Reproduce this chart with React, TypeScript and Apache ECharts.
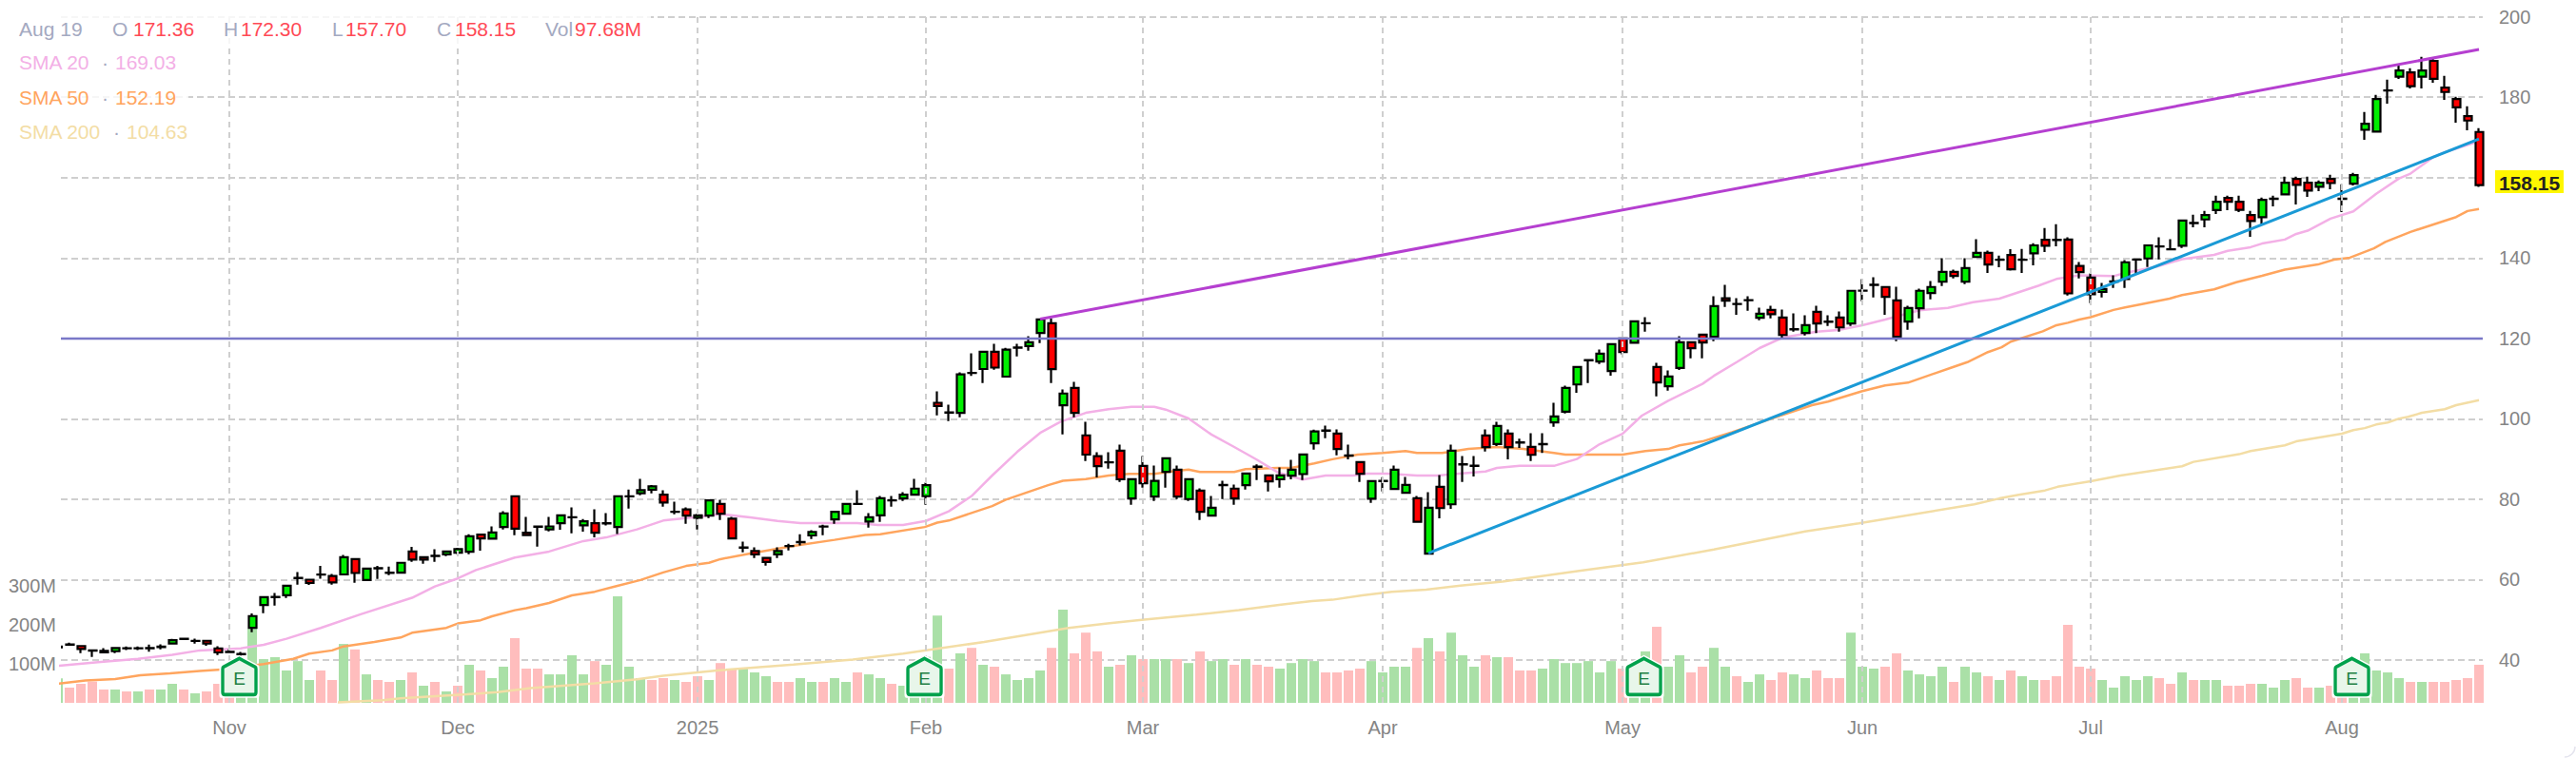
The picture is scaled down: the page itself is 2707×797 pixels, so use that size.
import React, { useEffect, useRef } from "react";
import * as echarts from "echarts";

const monthDays = [15, 35, 56, 76, 95, 116, 137, 158, 178, 200];
const monthLabels = ["Nov", "Dec", "2025", "Feb", "Mar", "Apr", "May", "Jun", "Jul", "Aug"];
const volumeTicks = [100, 200, 300];
const earningsDays = [16, 76, 139, 201];

const opens = [
  43.25, 43.8, 43.5, 42.4, 41.9, 42.2, 42.9, 42.9, 42.95, 43.25,
  44.1, 45.25, 44.75, 44.8, 42.9, 42.05, 41.5, 48.0, 53.7, 55.65,
  56.1, 60.4, 60.0, 61.25, 60.9, 61.3, 65.1, 59.9, 62.8, 61.7,
  61.75, 67.0, 65.6, 65.9, 66.3, 66.7, 66.95, 71.2, 70.2, 73.1,
  80.75, 71.7, 73.15, 72.5, 74.05, 75.5, 73.5, 74.05, 74.0, 73.1,
  80.7, 81.5, 82.4, 81.15, 76.85, 77.45, 75.4, 75.95, 78.85, 75.15,
  67.95, 67.1, 65.4, 66.3, 68.35, 69.3, 71.0, 73.2, 75.0, 76.4,
  78.8, 74.45, 76.0, 79.7, 80.2, 81.15, 80.75, 104.0, 101.55, 101.5,
  111.4, 112.4, 116.7, 110.5, 117.7, 118.1, 121.35, 123.8, 103.4, 107.7,
  95.9, 90.7, 89.15, 92.1, 80.2, 88.3, 80.65, 86.8, 87.35, 80.05,
  82.15, 75.95, 83.5, 82.65, 83.5, 88.05, 85.95, 84.95, 85.85, 86.25,
  93.9, 97.05, 96.35, 90.85, 89.25, 80.15, 84.5, 82.55, 81.6, 80.25,
  66.45, 83.1, 78.75, 88.65, 88.3, 95.85, 93.75, 96.35, 94.1, 93.05,
  93.7, 99.1, 101.8, 108.55, 114.55, 114.25, 111.9, 120.0, 118.95, 123.75,
  112.9, 108.1, 112.65, 119.05, 120.95, 120.4, 130.0, 128.55, 129.5, 125.15,
  127.1, 125.2, 122.25, 121.35, 126.6, 124.15, 125.2, 123.7, 131.85, 133.3,
  132.8, 129.45, 124.2, 127.5, 131.3, 134.1, 136.55, 134.1, 140.25, 141.3,
  139.55, 140.75, 139.55, 141.15, 144.55, 144.5, 144.6, 138.05, 135.15, 131.6,
  134.15, 134.75, 139.6, 139.9, 142.85, 142.15, 143.05, 148.7, 149.6, 151.95,
  154.95, 154.0, 150.7, 150.15, 154.7, 155.85, 159.7, 158.75, 157.75, 159.7,
  154.7, 158.5, 171.9, 171.45, 181.65, 185.1, 186.2, 185.1, 189.05, 182.4,
  179.55, 175.3, 171.36,
];

const closes = [
  43.3, 43.9, 42.75, 42.35, 42.3, 43.0, 42.95, 42.95, 43.0, 43.35,
  44.95, 45.3, 44.8, 44.1, 41.9, 42.0, 41.45, 50.95, 55.65, 55.7,
  58.5, 60.45, 59.2, 61.3, 59.3, 65.6, 61.65, 62.75, 62.85, 61.75,
  64.2, 65.0, 65.0, 65.95, 67.0, 67.6, 70.8, 70.25, 71.75, 76.5,
  72.7, 71.1, 73.2, 73.25, 76.0, 75.55, 74.5, 71.7, 74.05, 80.75,
  80.75, 82.25, 83.2, 79.2, 76.9, 75.95, 76.0, 79.7, 76.4, 70.25,
  68.0, 66.3, 64.4, 67.1, 68.4, 69.35, 71.85, 73.25, 76.9, 78.85,
  78.85, 75.55, 80.25, 79.75, 81.15, 82.65, 83.5, 103.2, 101.6, 111.05,
  111.45, 116.7, 112.75, 117.2, 117.75, 119.05, 124.75, 112.35, 106.3, 101.5,
  91.1, 88.25, 89.2, 84.95, 85.0, 84.0, 84.55, 90.2, 80.65, 85.0,
  76.9, 77.9, 83.55, 80.2, 86.4, 88.1, 84.45, 85.95, 87.35, 91.15,
  96.85, 97.1, 92.5, 90.9, 86.35, 84.5, 84.55, 87.35, 83.55, 74.4,
  77.9, 77.8, 92.1, 88.7, 88.35, 92.95, 98.25, 92.95, 94.15, 91.05,
  93.75, 100.6, 107.7, 112.9, 114.6, 116.2, 118.6, 116.6, 124.25, 123.8,
  109.05, 110.55, 119.05, 117.55, 119.0, 128.05, 129.4, 128.6, 129.55, 126.15,
  126.05, 120.85, 122.3, 123.3, 123.7, 124.2, 122.75, 131.85, 131.9, 133.35,
  130.35, 120.4, 127.55, 131.85, 132.8, 136.55, 135.55, 137.5, 141.3, 138.4,
  139.6, 137.2, 139.6, 143.15, 143.05, 144.55, 131.2, 136.5, 131.0, 132.3,
  134.2, 138.95, 139.65, 143.15, 142.9, 142.2, 149.35, 148.75, 150.7, 154.0,
  154.0, 152.0, 149.2, 154.5, 154.75, 158.75, 158.2, 156.8, 158.75, 158.65,
  154.75, 160.65, 173.4, 179.55, 181.7, 186.65, 182.75, 186.65, 184.6, 181.3,
  177.5, 174.2, 158.15,
];

const highs = [
  43.6, 44.32, 43.7, 42.5, 42.98, 43.06, 43.37, 43.37, 43.85, 43.93,
  45.27, 45.4, 45.35, 44.87, 43.45, 42.66, 42.03, 51.58, 55.8, 56.7,
  58.67, 61.91, 60.1, 63.4, 61.43, 66.16, 65.2, 62.8, 63.4, 63.25,
  64.2, 68.14, 65.7, 67.59, 67.1, 67.9, 71.29, 71.3, 73.26, 77.05,
  80.8, 75.63, 73.25, 75.63, 76.05, 77.99, 75.08, 77.52, 76.57, 80.8,
  82.41, 85.09, 83.51, 82.25, 79.41, 77.98, 76.41, 79.8, 79.88, 75.62,
  69.47, 68.05, 65.52, 68.05, 68.92, 71.28, 72.31, 73.65, 76.9, 78.9,
  82.25, 76.57, 80.82, 80.82, 81.77, 85.08, 84.14, 106.85, 103.54, 111.58,
  116.31, 116.8, 118.68, 117.65, 118.68, 120.57, 124.8, 124.99, 107.32, 109.22,
  99.28, 91.71, 91.71, 93.6, 85.1, 90.76, 88.39, 90.3, 88.39, 85.1,
  82.72, 80.82, 84.61, 83.66, 86.5, 88.71, 86.0, 87.92, 89.81, 91.2,
  97.31, 98.33, 97.37, 93.58, 89.3, 84.6, 85.46, 88.38, 85.54, 80.8,
  81.75, 86.01, 93.58, 90.74, 90.74, 97.37, 99.26, 97.37, 95.08, 96.42,
  96.42, 103.99, 108.25, 113, 114.7, 117.24, 118.6, 120.1, 124.3, 125.28,
  113.93, 112.04, 120.55, 119.1, 121, 130.49, 133.33, 130.02, 130.49, 127.65,
  128.12, 127.18, 126.23, 125.76, 128.12, 125.76, 126.7, 131.9, 134.75, 135.22,
  132.8, 132.85, 128.12, 132.38, 134.27, 139.95, 137.11, 139.95, 144.68, 141.85,
  140.61, 142.19, 142.27, 143.69, 147.48, 148.42, 145.17, 139.01, 136.18, 133.81,
  135.7, 139.49, 139.7, 143.2, 145.17, 144.69, 149.4, 150.79, 151.73, 155.52,
  155.52, 155.52, 151.73, 155.05, 155.52, 160.25, 160.25, 160.25, 159.31, 160.72,
  158.36, 161.2, 176.34, 180.6, 184.38, 188.01, 187.22, 190.06, 189.51, 185.33,
  180.13, 177.76, 172.3,
];

const lows = [
  43.0, 43.53, 41.72, 40.77, 41.72, 41.7, 42.51, 42.51, 42.1, 42.66,
  44.08, 45.15, 44.08, 43.53, 41.24, 41.72, 41.09, 46.92, 51.66, 53.55,
  55.44, 58.75, 58.67, 60.25, 58.75, 61.04, 59.22, 59.8, 60.17, 61.12,
  61.7, 64.43, 63.96, 64.43, 65.85, 66.32, 66.32, 67.19, 70.1, 72.47,
  71.05, 71.1, 68.21, 72.0, 72.4, 71.53, 71.92, 70.5, 73.5, 71.37,
  77.68, 80.99, 81.46, 78.15, 76.25, 73.88, 72.46, 75.3, 74.83, 70.2,
  66.79, 65.37, 63.47, 65.37, 67.26, 68.52, 70.1, 71.04, 73.88, 76.4,
  78.77, 72.94, 74.36, 78.14, 79.56, 81.1, 78.62, 100.86, 99.44, 100.38,
  110.71, 108.9, 112.21, 110.32, 115.52, 116.94, 118.84, 108.9, 96.12, 100.38,
  89.5, 85.4, 87.61, 84.3, 78.62, 82.88, 79.56, 82.88, 80.04, 79.56,
  74.83, 75.9, 80.04, 78.62, 82.4, 84.77, 81.93, 82.88, 84.93, 84.77,
  92.34, 95.18, 90.9, 89.95, 84.28, 79.07, 81.91, 82.38, 81.44, 74.18,
  66.4, 75.28, 77.65, 84.28, 85.69, 91.85, 93.26, 89.95, 92.79, 89.48,
  91.53, 98.0, 101.31, 106.51, 108.88, 113.61, 110.77, 115.98, 118.9, 121.66,
  105.57, 106.99, 112.19, 115.03, 115.03, 119.29, 127.81, 125.91, 126.86, 124.5,
  124.97, 120.08, 121.66, 120.71, 121.34, 123.08, 121.66, 123.08, 129.23, 130.17,
  125.91, 119.29, 122.13, 124.97, 129.7, 133.01, 134.91, 133.49, 140.11, 136.32,
  137.7, 136.91, 136.28, 138.17, 141.48, 142.9, 130.66, 134.91, 128.76, 130.18,
  132.55, 132.55, 136.18, 137.75, 139.65, 142.1, 142.5, 147.63, 147.63, 150.95,
  151.89, 151.42, 145.27, 148.42, 152.84, 155.68, 153.31, 155.2, 156.62, 157.1,
  151.42, 158.04, 169.4, 171.4, 178.39, 184.54, 182.18, 182.18, 183.6, 179.34,
  173.66, 171.77, 157.7,
];

const volumes = [
  62.6, 39, 48.8, 54.5, 34.1, 34.1, 29.3, 29.3, 34.1, 34.1,
  48.8, 34.1, 24.4, 29.3, 48.8, 50, 60, 190, 112, 117,
  83, 107, 58.5, 83, 58.5, 151, 137, 73, 58.5, 53.7,
  58.5, 78, 43.9, 53.7, 29.3, 43.9, 97.6, 83, 63.4, 92.7,
  166, 87.8, 87.8, 73, 73, 122, 73, 107, 97.6, 273,
  92.7, 63.4, 58.5, 63.4, 58.5, 53.7, 68.3, 58.5, 102, 87.8,
  87.8, 78, 68.3, 53.7, 53.7, 63.4, 53.7, 53.7, 63.4, 53.7,
  78, 73, 63.4, 48.8, 43.9, 50, 118, 224, 87.8, 127,
  141, 97.6, 92.7, 73, 58.5, 63.4, 83, 141, 239, 127,
  180, 132, 92.7, 97.6, 122, 112, 112, 112, 112, 102,
  132, 107, 112, 97.6, 112, 97.6, 92.7, 87.8, 102, 112,
  107, 78, 78, 83, 87.8, 107, 78, 92.7, 92.7, 141,
  166, 132, 180, 122, 92.7, 122, 117, 117, 83, 83,
  87.8, 112, 102, 102, 107, 78, 107, 87.8, 70, 132,
  195, 92.7, 122, 78, 92.7, 141, 92.7, 68.3, 53.7, 73,
  58.5, 78, 73, 63.4, 83, 63.4, 63.4, 180, 92.7, 87.8,
  92.7, 127, 83, 73, 68.3, 92.7, 53.7, 92.7, 78, 68.3,
  58.5, 83, 68.3, 58.5, 58.5, 68.3, 200, 92.7, 87.8, 58.5,
  39, 68.3, 58.5, 68.3, 63.4, 48.8, 78, 58.5, 58.5, 58.5,
  43.9, 43.9, 48.8, 48.8, 39, 58.5, 63.4, 39, 39, 43.9,
  60, 90, 127, 83, 78, 63.4, 53.7, 53.7, 53.7, 53.7,
  58.5, 63.4, 97.68,
];

const volumeUp = [
  1, 0, 0, 0, 0, 1, 0, 1, 0, 1,
  1, 0, 1, 0, 0, 0, 1, 1, 1, 1,
  1, 1, 1, 0, 0, 1, 0, 1, 0, 0,
  1, 0, 1, 0, 1, 0, 1, 0, 1, 1,
  0, 0, 0, 1, 1, 1, 1, 0, 1, 1,
  1, 1, 0, 0, 1, 0, 0, 1, 0, 0,
  1, 1, 1, 0, 0, 1, 1, 0, 1, 1,
  0, 1, 1, 0, 1, 1, 1, 1, 0, 1,
  0, 1, 0, 1, 1, 1, 1, 0, 1, 0,
  0, 0, 1, 0, 1, 0, 1, 1, 0, 1,
  0, 1, 1, 0, 1, 0, 0, 1, 1, 1,
  1, 0, 0, 0, 0, 1, 1, 1, 1, 0,
  1, 0, 1, 1, 1, 0, 1, 0, 0, 0,
  1, 1, 1, 1, 1, 1, 1, 0, 1, 1,
  0, 1, 1, 0, 0, 1, 1, 0, 1, 1,
  0, 0, 1, 1, 0, 0, 0, 1, 1, 1,
  0, 0, 1, 1, 1, 1, 0, 1, 1, 0,
  1, 0, 1, 1, 0, 0, 0, 0, 0, 1,
  1, 1, 1, 1, 0, 0, 1, 0, 1, 1,
  0, 0, 0, 1, 1, 1, 0, 0, 1, 0,
  0, 1, 1, 1, 1, 1, 0, 1, 0, 0,
  0, 0, 0,
];

const sma20Days = [
  0, 3.5, 7, 10, 12.4, 16, 18, 20, 23, 26.5, 31, 33, 35, 36.6, 40, 43, 46, 48, 50.7, 53,
  56, 58, 60.6, 63, 65, 70, 71.8, 74, 76, 78, 80, 81.8, 84, 86, 87.8, 90, 92, 94, 96, 97,
  99, 101, 103, 105, 106.8, 109, 111, 113.4, 114.6, 116.4, 119, 120.9, 122.7, 125, 126, 128, 131, 133, 135, 137,
  138.7, 141, 144, 145, 147, 149, 151, 154, 155.9, 158, 160, 163, 165.5, 167.7, 170, 173.4, 175, 177, 180, 181,
  183.8, 186, 188.8, 190, 192, 193, 195, 196, 197, 199, 201, 203, 205, 206, 208, 209, 212,
];
const sma20Values = [
  38.56, 39.5, 40.3, 41.3, 42.4, 42.9, 43.8, 45.3, 48.0, 51.4, 55.5, 58.3, 60.3, 62.4, 65.5, 67.0, 69.6, 70.5, 72.5, 74.7,
  75.6, 76.3, 75.5, 74.6, 74.1, 74.1, 73.6, 73.6, 74.6, 77.0, 80.8, 85.9, 91.8, 96.5, 99.3, 101.5, 102.4, 103.0, 103.0, 102.3,
  100.1, 96.1, 93.0, 89.8, 86.7, 84.9, 85.9, 85.9, 86.4, 86.4, 85.9, 85.9, 86.4, 86.9, 87.8, 88.3, 88.3, 90.0, 93.7, 96.3,
  100.8, 104.5, 108.7, 110.7, 114.1, 117.6, 120.2, 121.7, 122.1, 123.3, 124.7, 127.0, 127.6, 129.0, 129.9, 133.1, 134.8, 135.7, 135.5, 136.3,
  137.9, 139.7, 140.8, 141.8, 142.7, 143.6, 144.6, 146.0, 146.8, 149.8, 151.6, 156.0, 159.8, 161.0, 165.1, 166.3, 169.03,
];

const sma50Days = [
  0, 2.4, 5, 7.2, 9.8, 12.4, 14.6, 18, 20.6, 22, 24, 25, 27.7, 30, 31, 34, 35, 37, 38, 40,
  41, 43, 45, 47, 48.9, 51, 53, 55, 57, 58, 60.6, 64.4, 68, 70.7, 72, 75.9, 77, 78, 81.8, 83,
  86.7, 88, 90, 92, 93.8, 96, 97.8, 99, 100, 103, 104, 106.8, 108, 110, 111.6, 113.8, 116, 118, 119, 121.2,
  123.5, 126, 128.3, 131, 132, 137, 139, 141, 142, 144, 146.6, 150, 153.6, 155, 158, 160, 162, 165.75, 167.2, 169,
  170.2, 171, 173.8, 175, 176, 177, 178, 180, 181, 182.6, 184.9, 186, 188.8, 190.75, 193, 195, 197.9, 199.3, 200.7, 202.8,
  203.8, 206, 210, 211, 212,
];
const sma50Values = [
  34.1, 34.9, 35.3, 36.2, 36.7, 37.3, 37.7, 39.0, 40.3, 41.6, 42.4, 43.4, 44.5, 45.6, 46.8, 48.0, 49.1, 49.9, 50.9, 52.4,
  52.9, 54.2, 56.1, 57.0, 58.4, 59.9, 61.8, 63.4, 64.2, 65.1, 66.5, 68.4, 69.9, 71.1, 71.3, 73.1, 74.2, 74.7, 78.3, 79.9,
  83.5, 84.6, 85.0, 85.9, 86.3, 86.3, 87.0, 87.4, 86.8, 86.8, 87.5, 87.8, 87.8, 88.9, 89.95, 91.1, 91.5, 92.0, 91.5, 91.5,
  92.5, 93.0, 92.5, 91.5, 91.1, 91.1, 92.0, 92.5, 93.4, 94.4, 96.7, 100.0, 103.4, 104.3, 106.9, 108.3, 109.0, 112.7, 114.1, 116.6,
  117.8, 119.2, 121.76, 123.3, 123.9, 124.7, 125.3, 127.1, 127.7, 128.6, 129.9, 130.8, 132.2, 133.97, 135.6, 137.1, 138.4, 139.6, 140.1, 142.4,
  144.0, 146.5, 150.2, 151.7, 152.19,
];

const sma200Days = [
  24.5, 28.4, 30, 35.8, 38.5, 41.4, 47, 50.7, 53, 57.7, 64.4, 69.6, 74, 81.1, 88.5, 91.9, 94.9, 99.7, 103.4, 107.1,
  109.8, 111.6, 114.2, 116.8, 119.8, 122.8, 126.5, 133.2, 138.8, 145, 153, 157.7, 167.8, 170, 171.7, 174, 175.1, 178, 180.6, 186,
  187, 191, 192, 195, 196, 200, 201, 202, 203, 204, 205, 205.8, 207, 209, 210, 212,
];
const sma200Values = [
  29.5, 30.0, 30.5, 31.5, 32.0, 33.0, 34.2, 35.2, 36.1, 37.4, 38.9, 40.15, 41.6, 44.5, 48.0, 49.1, 50.0, 51.3, 52.4, 53.8,
  54.7, 55.0, 56.1, 57.0, 57.5, 58.5, 59.5, 62.2, 64.3, 67.5, 72.0, 74.0, 78.75, 80.2, 81.1, 82.2, 83.1, 84.5, 85.9, 88.2,
  89.3, 91.2, 92.0, 93.4, 94.4, 96.3, 97.2, 97.7, 98.6, 99.1, 100.07, 100.5, 101.5, 102.4, 103.4, 104.63,
];

const purpleTrendDays = [86, 212];
const purpleTrendPrices = [124.8, 191.9];
const blueTrendDays = [120, 212];
const blueTrendPrices = [66.6, 169.6];
const resistancePrice = 119.95;

const legendRowOne = [
  { text: "Aug 19", x: 20, fill: "#a4a9c1" },
  { text: "O", x: 118, fill: "#a4a9c1" },
  { text: "171.36", x: 140, fill: "#ff4a56" },
  { text: "H", x: 235, fill: "#a4a9c1" },
  { text: "172.30", x: 253, fill: "#ff4a56" },
  { text: "L", x: 349, fill: "#a4a9c1" },
  { text: "157.70", x: 363, fill: "#ff4a56" },
  { text: "C", x: 459, fill: "#a4a9c1" },
  { text: "158.15", x: 478, fill: "#ff4a56" },
  { text: "Vol", x: 573, fill: "#a4a9c1" },
  { text: "97.68M", x: 604, fill: "#ff4a56" },
];
const legendSma = [
  { name: "SMA 20", value: "169.03", dot: 107, valueX: 121, y: 65, fill: "#f3b0e6" },
  { name: "SMA 50", value: "152.19", dot: 107, valueX: 121, y: 102, fill: "#ffa55e" },
  { name: "SMA 200", value: "104.63", dot: 119, valueX: 133, y: 138, fill: "#f3dda5" },
];

const FONT = '"Liberation Sans", Arial, sans-serif';
const X_MIN = 0.25;
const X_MAX = 212.33;
const UP_VOL = "#aae0a7";
const DOWN_VOL = "#ffbdbd";

export default function App() {
  const ref = useRef<HTMLDivElement>(null);
  useEffect(() => {
    document.body.style.margin = "0";
    const chart = echarts.init(ref.current!, undefined, { renderer: "svg" });
    const days = opens.map((_, i) => i);
    const legendText = (text: string, x: number, y: number, fill: string) => ({
      type: "text",
      z: 61,
      style: { text, x, y, fill, font: `21px ${FONT}`, verticalAlign: "middle" },
    });
    const lineSeries = (name: string, xs: number[], ys: number[], color: string, width: number, z: number) => ({
      name,
      type: "line",
      data: xs.map((x, i) => [x, ys[i]]),
      xAxisIndex: 0,
      yAxisIndex: 0,
      showSymbol: false,
      symbol: "none",
      smooth: false,
      z,
      lineStyle: { color, width },
      silent: true,
    });
    const housePath =
      "path://M50 1 L97 24 Q99 25 99 29 L99 92 Q99 99 92 99 L8 99 Q1 99 1 92 L1 29 Q1 25 3 24 Z";
    chart.setOption({
      animation: false,
      backgroundColor: "#ffffff",
      grid: { left: 64, right: 98, top: 17.7, height: 721.3, containLabel: false },
      xAxis: {
        type: "value",
        min: X_MIN,
        max: X_MAX,
        axisLine: { show: false },
        axisTick: { show: false },
        splitLine: { show: false },
        axisLabel: {
          customValues: monthDays,
          formatter: (v: number) => monthLabels[monthDays.indexOf(v)] ?? "",
          color: "#858585",
          fontFamily: FONT,
          fontSize: 20,
          margin: 16,
        },
      },
      yAxis: [
        {
          type: "value",
          position: "right",
          min: 29.36,
          max: 200,
          splitNumber: 8,
          axisLine: { show: false },
          axisTick: { show: false },
          splitLine: {
            show: true,
            showMinLine: false,
            lineStyle: { color: "#cfcfcf", width: 2, type: [7, 4] },
          },
          axisLabel: {
            margin: 17,
            color: "#858585",
            fontFamily: FONT,
            fontSize: 20,
            padding: [0, 0, 6, 0],
            formatter: (v: number) => (v % 20 === 0 ? String(v) : ""),
          },
        },
        {
          type: "value",
          position: "left",
          min: 0,
          max: 1759,
          axisLine: { show: false },
          axisTick: { show: false },
          splitLine: { show: false },
          axisLabel: {
            customValues: volumeTicks,
            margin: 5,
            color: "#858585",
            fontFamily: FONT,
            fontSize: 20,
            padding: [0, 0, 6, 0],
            formatter: (v: number) => `${v}M`,
          },
        },
      ],
      series: [
        {
          name: "Month lines",
          type: "line",
          data: [],
          z: 1,
          silent: true,
          markLine: {
            silent: true,
            symbol: "none",
            label: { show: false },
            lineStyle: { color: "#cfcfcf", width: 2, type: [6, 5] },
            data: monthDays.map((d) => ({ xAxis: d })),
          },
        },
        {
          name: "Volume",
          type: "bar",
          yAxisIndex: 1,
          barWidth: 10,
          z: 2,
          silent: true,
          data: volumes.slice(1).map((v, i) => ({
            value: [days[i + 1], v],
            itemStyle: { color: volumeUp[i + 1] ? UP_VOL : DOWN_VOL },
          })),
        },
        {
          name: "Volume first day",
          type: "custom",
          yAxisIndex: 1,
          z: 2,
          silent: true,
          clip: true,
          data: [[days[0], volumes[0]]],
          renderItem: (_: any, api: any) => {
            const top = api.coord([api.value(0), api.value(1)]);
            const base = api.coord([api.value(0), 0]);
            return {
              type: "rect",
              shape: { x: top[0] - 5, y: top[1], width: 10, height: base[1] - top[1] },
              style: { fill: volumeUp[0] ? UP_VOL : DOWN_VOL },
            };
          },
        },
        lineSeries("SMA 200", sma200Days, sma200Values, "#f3dda5", 2.5, 3),
        lineSeries("SMA 50", sma50Days, sma50Values, "#ffa55e", 2.5, 3),
        lineSeries("SMA 20", sma20Days, sma20Values, "#f3b0e6", 2.5, 3),
        {
          name: "Price",
          type: "candlestick",
          z: 4,
          silent: true,
          barWidth: 8.5,
          data: days.slice(1).map((d) => [d, opens[d], closes[d], lows[d], highs[d]]),
          itemStyle: {
            color: "#00ee00",
            color0: "#ff0000",
            borderColor: "#000000",
            borderColor0: "#000000",
            borderWidth: 2.2,
          },
        },
        {
          name: "Price first day",
          type: "custom",
          z: 4,
          silent: true,
          clip: true,
          data: [[days[0], highs[0], lows[0]]],
          renderItem: (_: any, api: any) => {
            const hi = api.coord([api.value(0), api.value(1)]);
            const lo = api.coord([api.value(0), api.value(2)]);
            return {
              type: "rect",
              shape: { x: hi[0] - 5, y: hi[1], width: 10, height: Math.max(lo[1] - hi[1], 3) },
              style: { fill: "#000000" },
            };
          },
        },
        lineSeries("Support", blueTrendDays, blueTrendPrices, "#1a9ad6", 3, 6),
        lineSeries("Resistance", purpleTrendDays, purpleTrendPrices, "#b53fd0", 3, 6),
        lineSeries("Level", [X_MIN, X_MAX], [resistancePrice, resistancePrice], "#7a78c8", 2.5, 6),
        {
          name: "Earnings halo",
          type: "scatter",
          z: 7,
          silent: true,
          symbol: housePath,
          symbolSize: [42, 45],
          symbolOffset: [-1.5, 0],
          data: earningsDays.map((d) => [d, 35.9]),
          itemStyle: { color: "#ffffff", opacity: 1 },
        },
        {
          name: "Earnings",
          type: "scatter",
          z: 8,
          silent: true,
          symbol: housePath,
          symbolSize: [35, 38],
          symbolOffset: [-1.5, 0],
          data: earningsDays.map((d) => [d, 35.9]),
          itemStyle: { color: "#e8f6ea", borderColor: "#00a14b", borderWidth: 3.5, opacity: 1 },
          label: {
            show: true,
            position: "inside",
            formatter: "E",
            color: "#1f7f42",
            fontFamily: FONT,
            fontSize: 19,
            offset: [0, 2],
          },
        },
      ],
      graphic: [
        { type: "rect", z: 60, shape: { x: 14, y: 15, width: 670, height: 31 }, style: { fill: "rgba(255,255,255,0.8)" } },
        { type: "rect", z: 60, shape: { x: 14, y: 46, width: 184, height: 108 }, style: { fill: "rgba(255,255,255,0.8)" } },
        ...legendRowOne.map((t) => legendText(t.text, t.x, 30, t.fill)),
        ...legendSma.flatMap((s) => [
          legendText(s.name, 20, s.y, s.fill),
          legendText("·", s.dot, s.y, "#a4a9c1"),
          legendText(s.value, s.valueX, s.y, s.fill),
        ]),
        { type: "rect", z: 60, shape: { x: 2622, y: 179, width: 72, height: 24 }, style: { fill: "#fff700" } },
        {
          type: "text",
          z: 61,
          style: {
            text: "158.15",
            x: 2658,
            y: 192,
            fill: "#222222",
            font: `bold 21px ${FONT}`,
            align: "center",
            verticalAlign: "middle",
          },
        },
        {
          type: "arc",
          z: 60,
          shape: { cx: 2695, cy: 785, r: 11, startAngle: 0, endAngle: Math.PI / 2 },
          style: { stroke: "#e4e4ee", lineWidth: 1.5, fill: "none" },
        },
      ],
    });
    return () => chart.dispose();
  }, []);
  return <div ref={ref} style={{ position: "absolute", left: 0, top: 0, width: 2707, height: 797 }} />;
}
